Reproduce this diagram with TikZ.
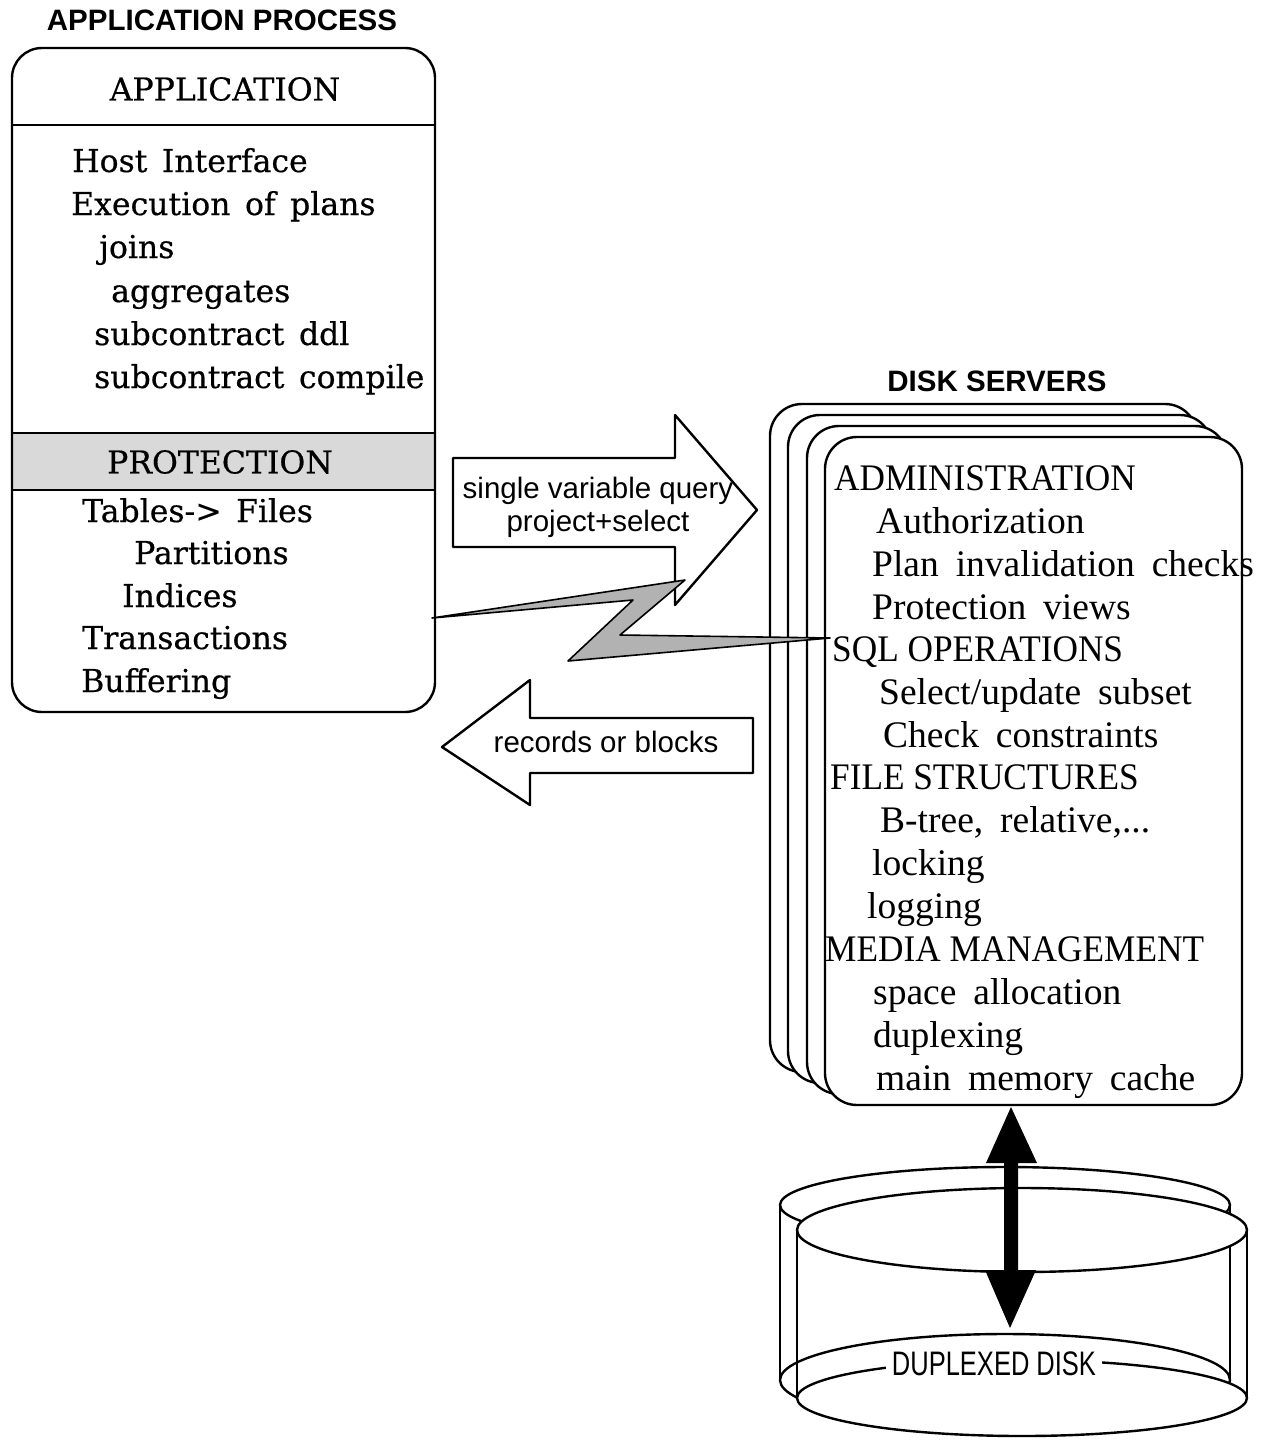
\documentclass[tikz,border=0pt]{standalone}
\usepackage{fontspec}
\newfontfamily\appfont[WordSpace=1.45,FakeBold=0.5]{DejaVu Serif}
\newfontfamily\srvfont[WordSpace=1.8]{Liberation Serif}
\newfontfamily\srvcapsfont[FakeStretch=0.94]{Liberation Serif}
\newfontfamily\labfont{Liberation Sans}
\newfontfamily\labnarrow[FakeStretch=0.75]{Liberation Sans}
\begin{document}
\begin{tikzpicture}[x=1pt,y=-1pt,line join=round,
  outl/.style={line width=2.4pt},
  apptxt/.style={anchor=base west,inner sep=0pt,font=\appfont\fontsize{31.5}{36}\selectfont},
  apphead/.style={inner sep=0pt,font=\appfont\fontsize{31.5}{36}\selectfont},
  srvtxt/.style={anchor=base west,inner sep=0pt,font=\srvfont\fontsize{37.5}{40}\selectfont},
  srvcap/.style={anchor=base west,inner sep=0pt,font=\srvcapsfont\fontsize{37.5}{40}\selectfont},
  titletxt/.style={inner sep=0pt,font=\labfont\bfseries\fontsize{29.5}{32}\selectfont},
  lbl/.style={inner sep=0pt,font=\labfont\fontsize{29.5}{34}\selectfont},
  srvbox/.style={draw,outl,fill=white,rounded corners=32pt,inner sep=0pt}
]
\useasboundingbox (0,0) rectangle (1266,1443);

% ---------- Application process ----------
\node[titletxt] (aptitle) at (222,20) {APPLICATION PROCESS};
\fill[gray!30] (12,433) rectangle (435,490);
\draw[outl] (12,125) -- (435,125);
\draw[outl] (12,433) -- (435,433);
\draw[outl] (12,490) -- (435,490);
\node[draw,outl,rounded corners=30pt,minimum width=423pt,minimum height=664pt,inner sep=0pt] (app) at (223.5,380) {};

\node[apphead] (apph) at (225,89) {APPLICATION};
\node[apptxt] (a1) at (72,172) {Host Interface};
\node[apptxt] (a2) at (71,215) {Execution of plans};
\node[apptxt] (a3) at (99,258) {joins};
\node[apptxt] (a4) at (111,302) {aggregates};
\node[apptxt] (a5) at (94,345) {subcontract ddl};
\node[apptxt] (a6) at (94,388) {subcontract compile};
\node[apphead] (proth) at (220,462) {PROTECTION};
\node[apptxt] (p1) at (82,522) {Tables-> Files};
\node[apptxt] (p2) at (134,564) {Partitions};
\node[apptxt] (p3) at (122,607) {Indices};
\node[apptxt] (p4) at (82,649) {Transactions};
\node[apptxt] (p5) at (81,692) {Buffering};

% ---------- Disk servers ----------
\node[titletxt] (dstitle) at (997,381) {DISK SERVERS};
\node[srvbox,minimum width=427pt,minimum height=668pt] (srv3) at (983.5,738) {};
\node[srvbox,minimum width=424pt,minimum height=668pt] (srv2) at (1000,749) {};
\node[srvbox,minimum width=420pt,minimum height=668pt] (srv1) at (1017,760) {};
\node[srvbox,minimum width=417pt,minimum height=668pt] (srv) at (1033.5,771) {};

\node[srvcap] (s1) at (834,490) {ADMINISTRATION};
\node[srvtxt] (s2) at (876,533) {Authorization};
\node[srvtxt] (s3) at (872,576) {Plan invalidation checks};
\node[srvtxt] (s4) at (872,619) {Protection views};
\node[srvcap] (s5) at (832,661) {SQL OPERATIONS};
\node[srvtxt] (s6) at (879,704) {Select/update subset};
\node[srvtxt] (s7) at (883,747) {Check constraints};
\node[srvcap] (s8) at (830,789) {FILE STRUCTURES};
\node[srvtxt] (s9) at (880,832) {B-tree, relative,...};
\node[srvtxt] (s10) at (872,875) {locking};
\node[srvtxt] (s11) at (867,918) {logging};
\node[srvcap] (s12) at (825,961) {MEDIA MANAGEMENT};
\node[srvtxt] (s13) at (873,1004) {space allocation};
\node[srvtxt] (s14) at (873,1047) {duplexing};
\node[srvtxt] (s15) at (876,1090) {main memory cache};

% ---------- block arrows ----------
\draw[outl,fill=white] (453,458) -- (675,458) -- (675,415) -- (757,510) -- (675,605) -- (675,547) -- (453,547) -- cycle;
\node[lbl] (q1) at (598,491) {single variable query};
\node[lbl] (q2) at (598,524) {project+select};

\draw[outl,fill=white] (753,718) -- (530,718) -- (530,680) -- (442,747) -- (530,805) -- (530,773) -- (753,773) -- cycle;
\node[lbl] (rb) at (606,742) {records or blocks};

% ---------- lightning link ----------
\coordinate (z1) at (432,618);
\coordinate (z2) at (685,580);
\coordinate (z3) at (620,635);
\coordinate (z4) at (830,638);
\coordinate (z5) at (568,661);
\coordinate (z6) at (633,600);
\draw[line width=1.6pt,fill=gray!60] (z1) -- (z2) -- (z3) -- (z4) -- (z5) -- (z6) -- cycle;

% ---------- duplexed disk ----------
\draw[outl] (780,1205) -- (780,1380);
\draw[outl] (1230,1205) -- (1230,1380);
\draw[outl] (1005,1205) ellipse [x radius=225pt,y radius=38pt];
\draw[outl] (1005,1380) ellipse [x radius=225pt,y radius=46pt];
\draw[outl,fill=white] (1022,1230) ellipse [x radius=225pt,y radius=42pt];
\draw[outl] (797,1230) -- (797,1398);
\draw[outl] (1247,1230) -- (1247,1398);
\draw[outl,fill=white] (1022,1398) ellipse [x radius=225pt,y radius=38pt];
\node[inner xsep=6pt,inner ysep=2pt,fill=white,font=\labnarrow\fontsize{34}{36}\selectfont] (dd) at (994,1364) {DUPLEXED DISK};

% ---------- double arrow ----------
\coordinate (dt) at (1011,1107);
\coordinate (db) at (1010,1328);
\fill[black] (dt) -- (1037,1163) -- (1018,1163) -- (1018,1270) -- (1036,1270) -- (db) -- (985,1270) -- (1004,1270) -- (1004,1163) -- (986,1163) -- cycle;
\end{tikzpicture}
\end{document}
